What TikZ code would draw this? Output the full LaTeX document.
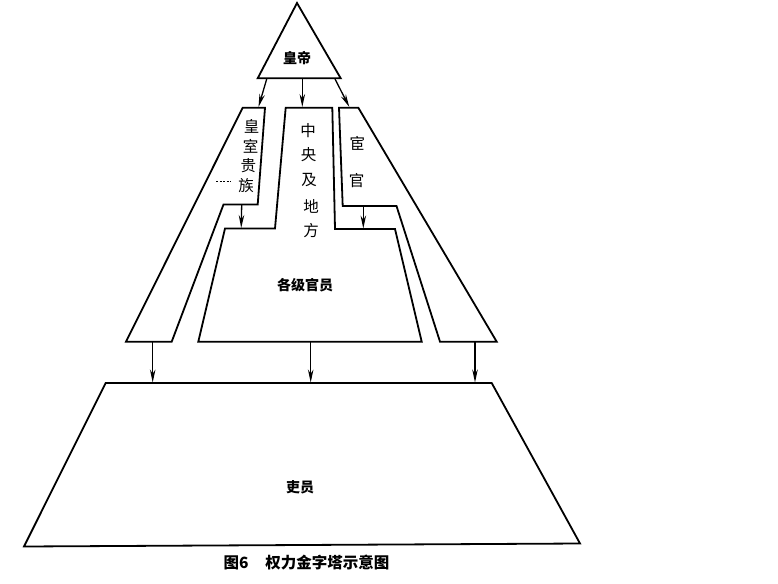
\documentclass[tikz,border=0pt]{standalone}
\usepackage{fontspec}
\newfontfamily\cjk{Noto Sans CJK SC}
\usetikzlibrary{arrows.meta}
\begin{document}
\begin{tikzpicture}[x=1pt,y=-1pt,
  shapeline/.style={draw=black,line width=1.8pt,line join=miter},
  lbl/.style={font=\cjk\bfseries\fontsize{14}{14}\selectfont,inner sep=0pt},
  vlbl/.style={font=\cjk\fontsize{15.5}{15.5}\selectfont,inner sep=0pt},
  arr/.style={draw=black,line width=1.3pt,-{Stealth[length=13pt,width=5.5pt]}}]
\useasboundingbox (0,0) rectangle (778,583);
% emperor triangle
\draw[shapeline] (297,3) -- (340.7,78.3) -- (257.7,78.3) -- cycle;
% left block
\draw[shapeline] (242.7,107.7) -- (265,107.7) -- (257.7,204.5) -- (223.5,204.5) -- (171.7,341.7) -- (126,341.7) -- cycle;
% middle block
\draw[shapeline] (285.7,107.7) -- (332.3,107.7) -- (335,229) -- (395,229) -- (421.7,341.7) -- (198.3,341.7) -- (225,228.5) -- (275,228.5) -- cycle;
% right block
\draw[shapeline] (339,107.7) -- (358.3,107.7) -- (496.7,341.7) -- (440,341.7) -- (396.5,206) -- (342.7,206) -- cycle;
% bottom trapezoid
\draw[shapeline] (105.7,383) -- (491.7,383) -- (580,543.5) -- (24,546.5) -- cycle;
% small mark
\draw[line width=0.6pt,dash pattern=on 2pt off 1.5pt] (216,181.5) -- (231,181.5);
% connector anchors
\coordinate (e1s) at (266.7,79);  \coordinate (e1t) at (258.5,107);
\coordinate (e2s) at (302.3,79);  \coordinate (e2t) at (302.3,107);
\coordinate (e3s) at (335,79);    \coordinate (e3t) at (349.3,107);
\coordinate (l1s) at (241.7,205); \coordinate (l1t) at (241.2,228);
\coordinate (r1s) at (363.3,206.5); \coordinate (r1t) at (363.3,228.5);
\coordinate (b1s) at (152.7,342); \coordinate (b1t) at (152.7,382.5);
\coordinate (b2s) at (310.7,342); \coordinate (b2t) at (310.7,382.5);
\coordinate (b3s) at (475,342);   \coordinate (b3t) at (475,382.5);
\draw[arr] (e1s) -- (e1t);
\draw[arr] (e2s) -- (e2t);
\draw[arr] (e3s) -- (e3t);
\draw[arr] (l1s) -- (l1t);
\draw[arr] (r1s) -- (r1t);
\draw[arr] (b1s) -- (b1t);
\draw[arr] (b2s) -- (b2t);
\draw[arr] (b3s) -- (b3t);
% labels
\node[lbl] (emp) at (297,58) {皇帝};
\node[vlbl] (h1) at (251.7,126) {皇};
\node[vlbl] (h2) at (250.5,146) {室};
\node[vlbl] (h3) at (248.3,166) {贵};
\node[vlbl] (h4) at (246,186) {族};
\node[vlbl] (c1) at (308,131) {中};
\node[vlbl] (c2) at (308.5,155) {央};
\node[vlbl] (c3) at (309,180) {及};
\node[vlbl] (c4) at (311,206) {地};
\node[vlbl] (c5) at (311,231) {方};
\node[vlbl] (g1) at (357.3,143.5) {宦};
\node[vlbl] (g2) at (356.7,180.5) {官};
\node[lbl] (off) at (305,285) {各级官员};
\node[lbl] (li) at (300,487) {吏员};
\node[font=\cjk\bfseries\fontsize{15.5}{15.5}\selectfont,inner sep=0pt] (cap) at (306.5,563) {图6\hspace{1.1em}权力金字塔示意图};
\end{tikzpicture}
\end{document}
